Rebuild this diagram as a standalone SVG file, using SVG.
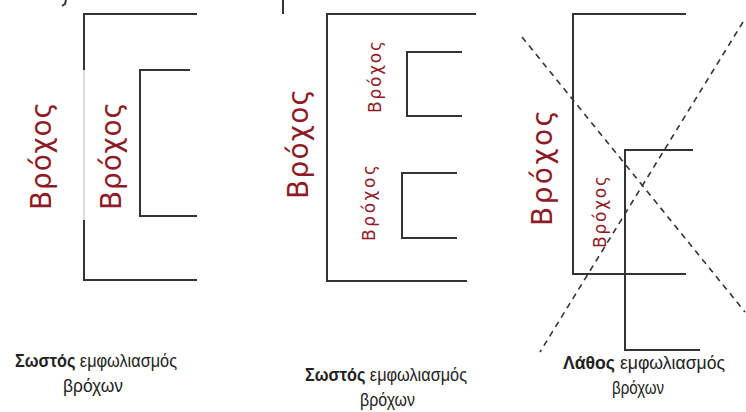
<svg xmlns="http://www.w3.org/2000/svg" width="746" height="412" viewBox="0 0 746 412">
<style>
.ln{stroke:#333;stroke-width:2;fill:none}
.faint{stroke:#bbb;stroke-width:1;fill:none}
.dash{stroke:#333;stroke-width:1.6;fill:none;stroke-dasharray:6 5}
.big{font-family:"DejaVu Sans",sans-serif;font-size:28px;fill:#8e1b27;text-anchor:middle}
.small{font-family:"DejaVu Sans",sans-serif;font-size:17px;fill:#8e1b27;text-anchor:middle}
.cap{font-family:"Liberation Sans",sans-serif;font-size:18px;fill:#222}
.cap tspan.b{font-weight:bold}
</style>
<rect width="746" height="412" fill="#fff"/>
<g id="fragments">
<path class="ln" d="M66,0 L65,4 L62,6" stroke-width="1.5"/>
<path class="ln" d="M283,0 L283,14" stroke-width="2"/>
</g>
<g id="panel1">
<path class="ln" d="M197,14 H84 V70 M84,220 V280 H197"/>
<path class="faint" d="M84,70 V220"/>
<path class="ln" d="M190,70 H140 V216 H197"/>
<text class="big" transform="translate(51,156) rotate(-90)" textLength="108" lengthAdjust="spacing">Βρόχος</text>
<text class="big" transform="translate(121,156) rotate(-90)" textLength="108" lengthAdjust="spacing">Βρόχος</text>
<text class="cap" x="15" y="367" textLength="162" lengthAdjust="spacingAndGlyphs"><tspan class="b">Σωστός</tspan> εμφωλιασμός</text>
<text class="cap" x="63" y="392" textLength="60" lengthAdjust="spacingAndGlyphs">βρόχων</text>
</g>
<g id="panel2">
<path class="ln" d="M476,14 H327 V281 H467"/>
<path class="ln" d="M462,52 H407 V116 H462"/>
<path class="ln" d="M457,173 H402 V238 H457"/>
<text class="big" transform="translate(308,144) rotate(-90)" textLength="110" lengthAdjust="spacing">Βρόχος</text>
<text class="small" transform="translate(381,77) rotate(-90)" textLength="72" lengthAdjust="spacing">Βρόχος</text>
<text class="small" transform="translate(375,203) rotate(-90)" textLength="76" lengthAdjust="spacing">Βρόχος</text>
<text class="cap" x="305" y="381" textLength="162" lengthAdjust="spacingAndGlyphs"><tspan class="b">Σωστός</tspan> εμφωλιασμός</text>
<text class="cap" x="360" y="406" textLength="55" lengthAdjust="spacingAndGlyphs">βρόχων</text>
</g>
<g id="panel3">
<path class="ln" d="M686,14 H573 V274 H686"/>
<path class="ln" d="M693,150 H625 V350 H700"/>
<text class="big" transform="translate(552,168) rotate(-90)" textLength="116" lengthAdjust="spacing">Βρόχος</text>
<text class="small" transform="translate(606,212) rotate(-90)" textLength="72" lengthAdjust="spacing">Βρόχος</text>
<text class="cap" x="563" y="369" textLength="162" lengthAdjust="spacingAndGlyphs"><tspan class="b">Λάθος</tspan> εμφωλιασμός</text>
<text class="cap" x="612" y="394" textLength="52" lengthAdjust="spacingAndGlyphs">βρόχων</text>
</g>
<g id="connectors">
<path class="dash" d="M522,37 L745,312"/>
<path class="dash" d="M743,22 L540,352"/>
</g>
</svg>
